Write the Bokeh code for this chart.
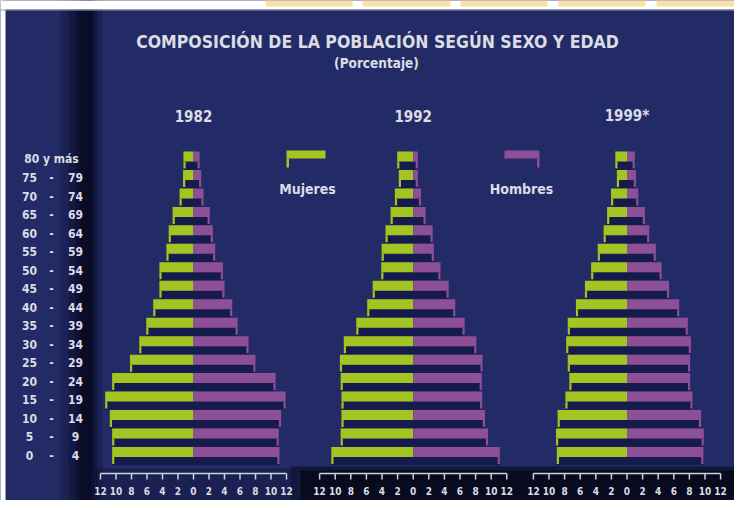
from bokeh.plotting import figure
from bokeh.models import Range1d, ColumnDataSource
from bokeh.core.properties import value
from bokeh.embed import file_html
from bokeh.resources import INLINE

# ---------------- data (bottom row first) ----------------
age_lo = ["0", "5", "10", "15", "20", "25", "30", "35", "40", "45", "50", "55", "60", "65", "70", "75"]
age_hi = ["4", "9", "14", "19", "24", "29", "34", "39", "44", "49", "54", "59", "64", "69", "74", "79"]
age_top = "80 y más"

years = ["1982", "1992", "1999*"]
women_1982 = [10.5, 10.5, 10.8, 11.4, 10.5, 8.2, 7.0, 6.1, 5.2, 4.4, 4.4, 3.5, 3.2, 2.7, 1.8, 1.35, 1.3]
men_1982 = [11.1, 11.0, 11.3, 11.9, 10.6, 8.0, 7.1, 5.7, 5.0, 4.0, 3.8, 2.8, 2.5, 2.1, 1.3, 1.0, 0.8]
women_1992 = [10.5, 9.3, 9.2, 9.2, 9.3, 9.4, 8.9, 7.3, 5.9, 5.2, 4.1, 4.05, 3.55, 2.9, 2.35, 1.85, 2.05]
men_1992 = [11.1, 9.6, 9.2, 8.85, 8.8, 8.9, 8.1, 6.6, 5.4, 4.55, 3.5, 2.65, 2.5, 1.6, 1.0, 0.6, 0.6]
women_1999 = [9.0, 9.1, 8.9, 7.9, 7.4, 7.6, 7.8, 7.6, 6.55, 5.4, 4.6, 3.75, 3.0, 2.55, 2.05, 1.3, 1.5]
men_1999 = [9.8, 9.85, 9.5, 8.4, 8.1, 8.1, 8.2, 7.8, 6.7, 5.4, 4.45, 3.7, 2.85, 2.3, 1.45, 1.15, 1.0]

tick_values = [-12, -10, -8, -6, -4, -2, 0, 2, 4, 6, 8, 10, 12]
tick_labels = ["12", "10", "8", "6", "4", "2", "0", "2", "4", "6", "8", "10", "12"]

title_text = "COMPOSICIÓN DE LA POBLACIÓN SEGÚN SEXO Y EDAD"
subtitle_text = "(Porcentaje)"
legend_women = "Mujeres"
legend_men = "Hombres"

# ---------------- style ----------------
BG = "#232b67"
GREEN = "#a4c421"
PURPLE = "#8d4f95"
STRIP = "#161b4d"
TXT = "#dcdce4"
FONT = "DejaVu Sans Condensed"

W, H = 734, 500
ROW0 = 451.5   # screen y of bottom row centre
ROWH = 18.47   # row spacing in px
panels = {"1982": (193.0, 7.75), "1992": (412.7, 7.8), "1999*": (626.5, 7.8)}

p = figure(width=W, height=H, title=None,
           x_range=Range1d(0, W),
           y_range=Range1d((ROW0 - H) / ROWH, ROW0 / ROWH),
           output_backend="svg", toolbar_location=None,
           x_axis_location=None, y_axis_location=None,
           min_border=0, background_fill_color=BG, border_fill_color=BG,
           outline_line_color=None)
p.grid.grid_line_color = None
p.extra_y_ranges = {"px": Range1d(H, 0)}
extra = {}
for yr, (x0, s) in panels.items():
    extra[yr] = Range1d((0 - x0) / s, (W - x0) / s)
p.extra_x_ranges = extra

# ---------------- background decoration ----------------
for l, r, a in [(60, 102, 0.22), (68, 97, 0.3), (75, 94, 0.4), (80, 91, 0.45)]:
    p.quad(left=[l], right=[r], bottom=[H], top=[0], y_range_name="px",
           fill_color="#04061a", fill_alpha=a, line_color=None)
p.quad(left=[95], right=[290], bottom=[500], top=[468], y_range_name="px",
       fill_color="#05071a", fill_alpha=0.3, line_color=None)
p.quad(left=[290], right=[W], bottom=[501], top=[466], y_range_name="px",
       fill_color="#05071a", fill_alpha=0.55, line_color=None)
p.quad(left=[300], right=[W], bottom=[499], top=[470], y_range_name="px",
       fill_color="#04050f", fill_alpha=0.7, line_color=None)
# white page edges and tabs
p.quad(left=[0], right=[W], bottom=[9], top=[0], y_range_name="px",
       fill_color="white", line_color=None)
p.quad(left=[0], right=[5], bottom=[H], top=[0], y_range_name="px",
       fill_color="white", line_color=None)
p.quad(left=[0], right=[W], bottom=[10], top=[9], y_range_name="px",
       fill_color="#9a9cb0", line_color=None)
p.quad(left=[265, 362, 460, 558, 656], right=[352, 450, 547, 645, 742],
       bottom=[6] * 5, top=[0] * 5, y_range_name="px",
       fill_color="#f9e0a4", line_color=None)

# ---------------- pyramids ----------------
rows = list(range(len(women_1982)))
series = {"1982": (women_1982, men_1982), "1992": (women_1992, men_1992), "1999*": (women_1999, men_1999)}
BH = 10.0 / ROWH
SH = 8.0 / ROWH
LEG = 7.0 / ROWH

for yr, (w, m) in series.items():
    s = panels[yr][1]
    lw = 2.2 / s
    src = ColumnDataSource(dict(
        y=rows,
        wl=[-v for v in w], wr=[0] * len(w),
        ml=[0] * len(m), mr=m,
        wleg_r=[-v + lw for v in w], mleg_l=[v - lw for v in m],
        bar_bot=[r - BH / 2 for r in rows],
        strip_y=[r - BH / 2 - SH / 2 for r in rows],
        leg_bot=[r - BH / 2 - LEG for r in rows],
    ))
    p.hbar(y="strip_y", left="wl", right="mr", height=SH, source=src,
           x_range_name=yr, fill_color=STRIP, line_color=None)
    p.quad(left="wl", right="wleg_r", top="bar_bot", bottom="leg_bot", source=src,
           x_range_name=yr, fill_color=GREEN, line_color=None)
    p.quad(left="mleg_l", right="mr", top="bar_bot", bottom="leg_bot", source=src,
           x_range_name=yr, fill_color=PURPLE, line_color=None)
    p.hbar(y="y", left="wl", right="wr", height=BH, source=src,
           x_range_name=yr, fill_color=GREEN, line_color=None)
    p.hbar(y="y", left="ml", right="mr", height=BH, source=src,
           x_range_name=yr, fill_color=PURPLE, line_color=None)

    # axis
    p.segment(x0=[tick_values[0]], x1=[tick_values[-1]], y0=[473], y1=[473],
              x_range_name=yr, y_range_name="px", line_color="#d0d0d8", line_width=1.5)
    p.segment(x0=tick_values, x1=tick_values, y0=[473] * len(tick_values), y1=[479] * len(tick_values),
              x_range_name=yr, y_range_name="px", line_color="#d0d0d8", line_width=1.5)
    p.text(x=tick_values, y=[490] * len(tick_values), text=tick_labels,
           x_range_name=yr, y_range_name="px",
           text_font=value(FONT), text_font_size="10px", text_font_style="bold",
           text_color=TXT, text_align="center", text_baseline="middle")

    p.text(x=[0], y=[115], text=[yr], x_range_name=yr, y_range_name="px",
           text_font=value(FONT), text_font_size="15px", text_font_style="bold",
           text_color=TXT, text_align="center", text_baseline="middle")

# ---------------- age labels ----------------
lab_rows = rows[:-1]
common = dict(text_font=value(FONT), text_font_size="12px", text_font_style="bold",
              text_color=TXT, text_align="center", text_baseline="middle", y_offset=3)
p.text(x=[29] * len(age_lo), y=lab_rows, text=age_lo, **common)
p.text(x=[51] * len(age_lo), y=lab_rows, text=["-"] * len(age_lo), **common)
p.text(x=[75] * len(age_hi), y=lab_rows, text=age_hi, **common)
p.text(x=[51], y=[rows[-1]], text=[age_top], **common)

# ---------------- titles ----------------
p.text(x=[377], y=[41], text=[title_text], y_range_name="px",
       text_font=value(FONT), text_font_size="17.5px", text_font_style="bold",
       text_color=TXT, text_align="center", text_baseline="middle")
p.text(x=[376], y=[62], text=[subtitle_text], y_range_name="px",
       text_font=value(FONT), text_font_size="13.5px", text_font_style="bold",
       text_color=TXT, text_align="center", text_baseline="middle")

# ---------------- legend ----------------
p.quad(left=[286], right=[325], top=[150], bottom=[158], y_range_name="px",
       fill_color=GREEN, line_color=None)
p.quad(left=[286], right=[288.5], top=[158], bottom=[167], y_range_name="px",
       fill_color=GREEN, line_color=None)
p.quad(left=[504], right=[539], top=[150], bottom=[158], y_range_name="px",
       fill_color=PURPLE, line_color=None)
p.quad(left=[536.5], right=[539], top=[158], bottom=[167], y_range_name="px",
       fill_color=PURPLE, line_color=None)
p.text(x=[307], y=[188], text=[legend_women], y_range_name="px",
       text_font=value(FONT), text_font_size="14px", text_font_style="bold",
       text_color=TXT, text_align="center", text_baseline="middle")
p.text(x=[521], y=[188], text=[legend_men], y_range_name="px",
       text_font=value(FONT), text_font_size="14px", text_font_style="bold",
       text_color=TXT, text_align="center", text_baseline="middle")

open("out.html", "w").write(file_html(p, INLINE))
